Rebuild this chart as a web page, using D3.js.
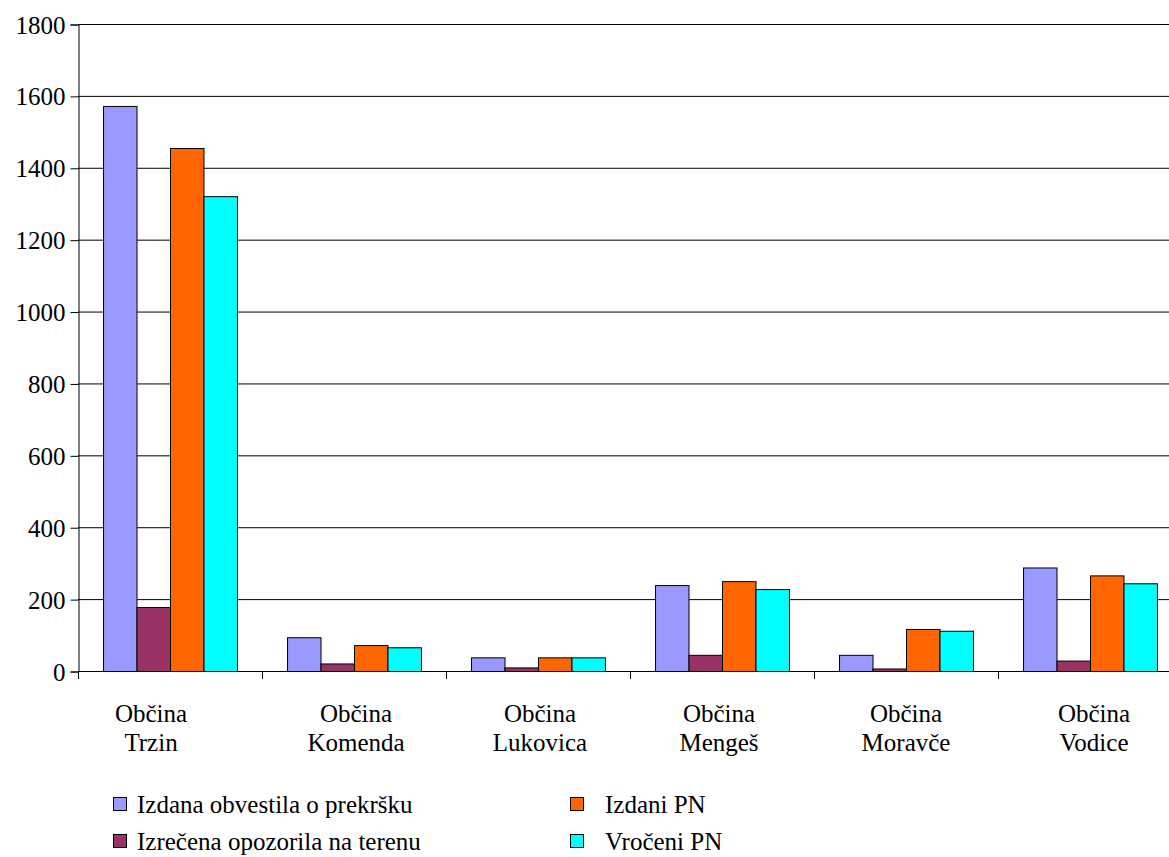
<!DOCTYPE html>
<html>
<head>
<meta charset="utf-8">
<script src="https://cdn.jsdelivr.net/npm/d3@7"></script>
<style>
  html, body { margin: 0; padding: 0; background: #fff; }
  svg { display: block; }
  svg text { font-family: "Liberation Serif", "DejaVu Serif", serif; fill: #000; }
</style>
</head>
<body>
<div id="chart"></div>
<script>
// Categories and series
const categories = [
  ['Občina', 'Trzin'],
  ['Občina', 'Komenda'],
  ['Občina', 'Lukovica'],
  ['Občina', 'Mengeš'],
  ['Občina', 'Moravče'],
  ['Občina', 'Vodice']
];
const seriesNames = [
  'Izdana obvestila o prekršku',
  'Izrečena opozorila na terenu',
  'Izdani PN',
  'Vročeni PN'
];
const izdanaObvestila = [1572, 94, 38, 239, 45, 288];
const izreceneOpozorila = [178, 21, 10, 45, 7, 29];
const izdaniPN = [1455, 72, 38, 250, 117, 266];
const vroceniPN = [1321, 66, 38, 228, 112, 244];
const yTicks = [0, 200, 400, 600, 800, 1000, 1200, 1400, 1600, 1800];

(function () {
    const colors = ['#9999ff', '#993366', '#ff6600', '#00ffff'];
    const values = [izdanaObvestila, izreceneOpozorila, izdaniPN, vroceniPN];
    const FONT_SIZE = '25px';

    const width = 1169;
    const height = 857;
    const plot = { left: 78, top: 24, bottom: 671, right: 78 + 184 * categories.length };

    const svg = d3.select('#chart')
        .append('svg')
        .attr('width', width)
        .attr('height', height);

    const x = d3.scaleBand()
        .domain(d3.range(categories.length))
        .range([plot.left, plot.right])
        .paddingInner(0.272)
        .paddingOuter(0.136);

    // band step stays 184, bars sit in the inner band
    const xGroup = d3.scaleBand()
        .domain(d3.range(categories.length))
        .range([plot.left, plot.right]);

    const xSeries = d3.scaleBand()
        .domain(d3.range(seriesNames.length))
        .range([0, x.bandwidth()]);

    const y = d3.scaleLinear()
        .domain([0, 1800])
        .range([plot.bottom, plot.top]);

    // gridlines
    svg.append('g')
        .selectAll('line')
        .data(yTicks.filter((t) => t > 0))
        .join('line')
        .attr('x1', plot.left)
        .attr('x2', width)
        .attr('y1', (d) => y(d) + 0.5)
        .attr('y2', (d) => y(d) + 0.5)
        .attr('stroke', '#000')
        .attr('stroke-width', 1);

    // bars
    const groups = svg.append('g')
        .selectAll('g')
        .data(categories.map((c, i) => i))
        .join('g')
        .attr('transform', (i) => `translate(${x(i)},0)`);

    groups.selectAll('rect')
        .data((i) => values.map((v, s) => ({ s, v: v[i] })))
        .join('rect')
        .attr('x', (d) => xSeries(d.s) + 0.5)
        .attr('y', (d) => y(d.v) + 0.5)
        .attr('width', xSeries.bandwidth())
        .attr('height', (d) => y(0) - y(d.v))
        .attr('fill', (d) => colors[d.s])
        .attr('stroke', '#000')
        .attr('stroke-width', 1);

    // y axis
    const yAxis = svg.append('g')
        .attr('transform', `translate(${plot.left + 0.5},0.5)`)
        .call(d3.axisLeft(y).tickValues(yTicks).tickSize(8).tickPadding(5).tickFormat(d3.format('d')));
    yAxis.attr('font-family', null).attr('font-size', null);
    yAxis.select('.domain').attr('stroke', '#000');
    yAxis.selectAll('.tick line').attr('stroke', '#000');
    yAxis.selectAll('text')
        .style('font-size', FONT_SIZE)
        .attr('dy', '0.34em');

    // x axis line with boundary ticks
    svg.append('line')
        .attr('x1', plot.left)
        .attr('x2', width)
        .attr('y1', plot.bottom + 0.5)
        .attr('y2', plot.bottom + 0.5)
        .attr('stroke', '#000');

    svg.append('g')
        .selectAll('line')
        .data(d3.range(categories.length + 1))
        .join('line')
        .attr('x1', (i) => (i < categories.length ? xGroup(i) : plot.right) + 0.5)
        .attr('x2', (i) => (i < categories.length ? xGroup(i) : plot.right) + 0.5)
        .attr('y1', plot.bottom)
        .attr('y2', plot.bottom + 8)
        .attr('stroke', '#000');

    // category labels (two lines); the first one sits a bit left, as in the original
    const labelShift = [-19, 2, 2, -3, 0, 4];
    const labels = svg.append('g')
        .selectAll('text')
        .data(categories)
        .join('text')
        .attr('text-anchor', 'middle')
        .style('font-size', FONT_SIZE)
        .attr('transform', (c, i) => `translate(${xGroup(i) + xGroup.bandwidth() / 2 + labelShift[i]},722)`);
    labels.selectAll('tspan')
        .data((c) => c)
        .join('tspan')
        .attr('x', 0)
        .attr('dy', (d, j) => (j === 0 ? 0 : 29))
        .text((d) => d);

    // legend: two columns, two rows
    const legendPos = [
        { x: 113, y: 804 },
        { x: 113, y: 841 },
        { x: 570, y: 804 },
        { x: 570, y: 841 }
    ];
    const textOffset = [24, 24, 35, 35];

    const legend = svg.append('g')
        .selectAll('g')
        .data(seriesNames)
        .join('g')
        .attr('transform', (d, i) => `translate(${legendPos[i].x},${legendPos[i].y})`);

    legend.append('rect')
        .attr('x', 0.5)
        .attr('y', -6.5)
        .attr('width', 13)
        .attr('height', 13)
        .attr('fill', (d, i) => colors[i])
        .attr('stroke', '#000');

    legend.append('text')
        .attr('x', (d, i) => textOffset[i])
        .attr('y', 9)
        .style('font-size', FONT_SIZE)
        .text((d) => d);
})();
</script>
</body>
</html>
